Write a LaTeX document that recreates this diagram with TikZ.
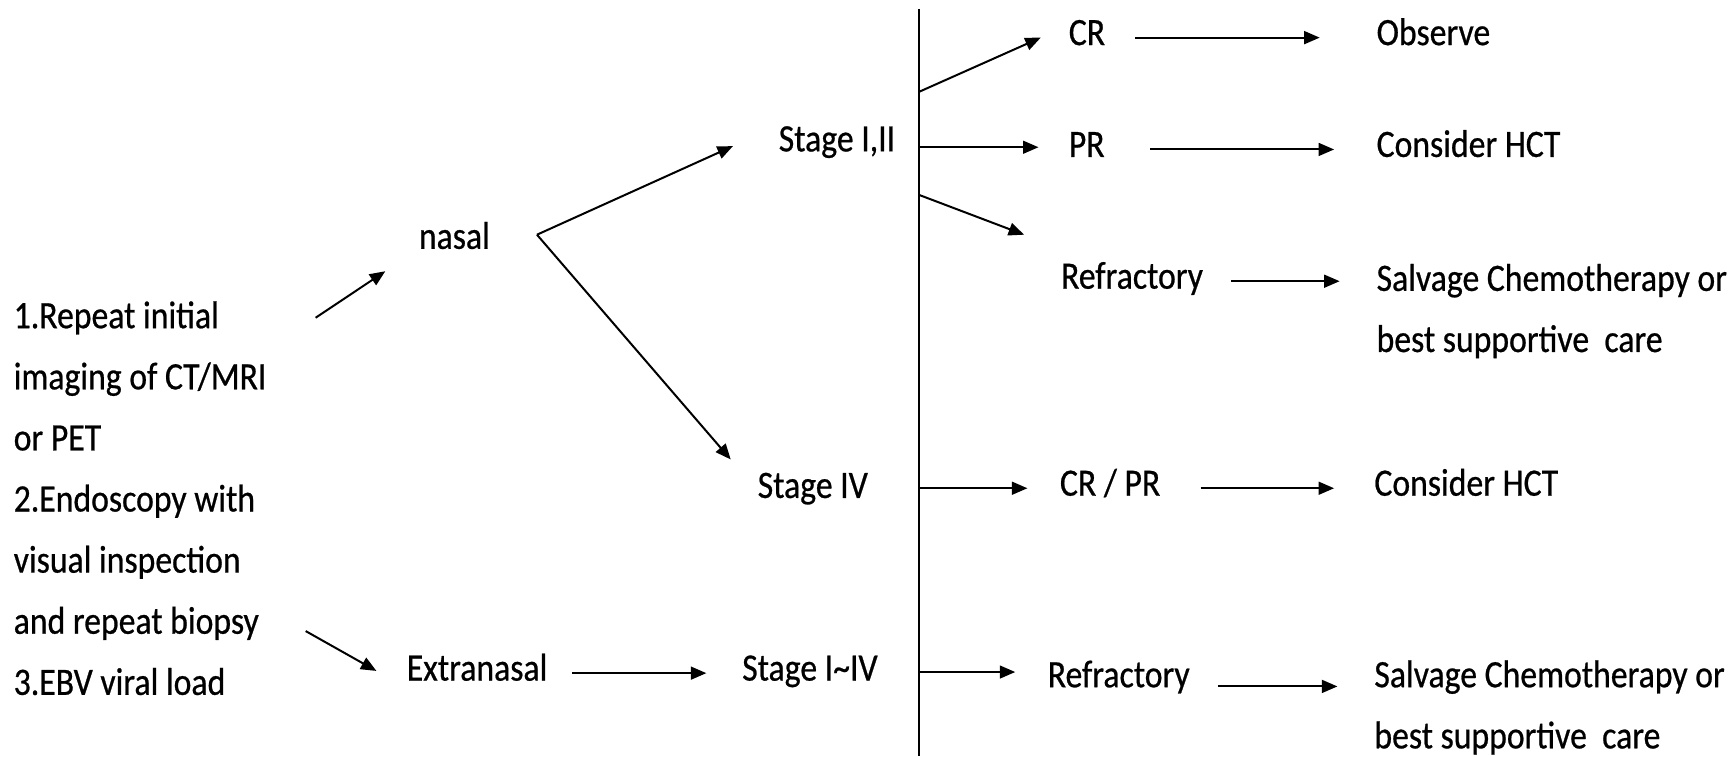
\documentclass[tikz,border=0pt]{standalone}
\usepackage{fontspec}
\setmainfont{Carlito}[FakeStretch=0.87,FakeBold=0.6]
\usetikzlibrary{arrows.meta,calc,positioning}
\tikzset{
  stepnode/.style={inner sep=0pt, anchor=west, text height=1.7ex, text depth=0.29ex},
  notebox/.style={inner sep=0pt, anchor=west, align=left},
  edgeflow/.style={black, line width=0.9pt, -{Triangle[length=7pt,width=5.8pt]}},
  edgebar/.style={black, line width=0.7pt}
}

\begin{document}
\begin{tikzpicture}[x=0.5pt, y=-0.5pt, font=\fontsize{17.5pt}{27.6pt}\selectfont]
\useasboundingbox (0,0) rectangle (1568,683);
% work-up and site
\node[notebox] (info) at (12,450) {1.Repeat initial\\imaging of CT/MRI\\or PET\\2.Endoscopy with\\visual inspection\\and repeat biopsy\\3.EBV viral load};
\node[stepnode] (nasal) at (378,218) {nasal};
\node[stepnode] (extra) at (367,608) {Extranasal};
% stages
\node[stepnode] (stgA) at (703,130) {Stage I,II};
\node[stepnode] (stgB) at (684,443) {Stage IV};
\node[stepnode] (stgC) at (670,608) {Stage I\textasciitilde IV};
% response and treatment
\node[stepnode] (cr) at (965,34) {CR};
\node[stepnode] (obs) at (1243,34) {Observe};
\node[stepnode] (pr) at (965,135) {PR};
\node[stepnode] (hctA) at (1243,135) {Consider HCT};
\node[stepnode] (refA) at (958,254) {Refractory};
\node[notebox] (salvA) at (1243,281) {Salvage Chemotherapy or\\best supportive~~care};
\node[stepnode] (crpr) at (957,441) {CR / PR};
\node[stepnode] (hctB) at (1241,441) {Consider HCT};
\node[stepnode] (refB) at (946,614) {Refractory};
\node[notebox] (salvB) at (1241,639) {Salvage Chemotherapy or\\best supportive~~care};

\coordinate (split) at (485,212);
\coordinate (bartop) at (830,8);
\coordinate (barbot) at (830,683);
\foreach \n/\y in {b1/83,b2/133,b3/176,b4/441,b5/607}
  \coordinate (\n) at (830,\y);
\draw[edgebar] (bartop) -- (barbot);

\draw[edgeflow] ([shift={(44,-163)}]info.east) -- ([shift={(-30,27)}]nasal.west);
\draw[edgeflow] ([shift={(35,120)}]info.east) -- ([shift={(-27,-2)}]extra.west);
\draw[edgeflow] (split) -- ([shift={(-41,2)}]stgA.west);
\draw[edgeflow] (split) -- ([shift={(-24,-28)}]stgB.west);
\draw[edgeflow, shorten <=11pt, shorten >=16pt] (extra.east) -- (stgC.west);

\draw[edgeflow] (b1) -- ([xshift=-12.5pt]cr.west);
\draw[edgeflow, shorten >=13.5pt] (b2) -- (b2 -| pr.west);
\draw[edgeflow] (b3) -- ([shift={(-33,-42)}]refA.west);
\draw[edgeflow, shorten >=14.5pt] (b4) -- (crpr.west);
\draw[edgeflow, shorten >=14.5pt] (b5) -- (b5 -| refB.west);

\draw[edgeflow, shorten <=13.5pt, shorten >=25.5pt] (cr.east) -- (obs.west);
\draw[edgeflow, shorten <=20.5pt, shorten >=19pt] (pr.east) -- (hctA.west);
\draw[edgeflow, shorten <=12.5pt, shorten >=16.5pt] (refA.east) -- (refA.east -| salvA.west);
\draw[edgeflow, shorten <=18pt, shorten >=18pt] (crpr.east) -- (hctB.west);
\draw[edgeflow, shorten <=12.5pt, shorten >=16.5pt] ([yshift=-3pt]refB.east) -- ([yshift=-3pt]refB.east -| salvB.west);
\end{tikzpicture}
\end{document}
